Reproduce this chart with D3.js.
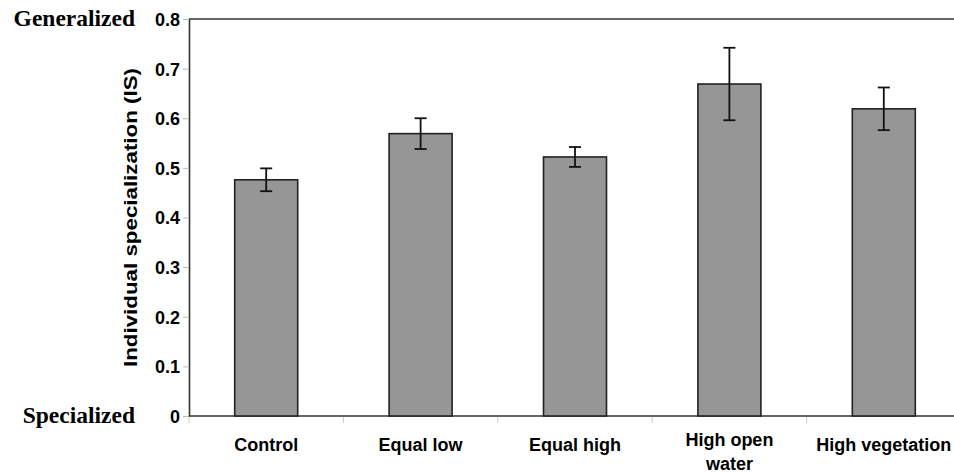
<!DOCTYPE html>
<html>
<head>
<meta charset="utf-8">
<script src="https://cdn.jsdelivr.net/npm/d3@7"></script>
<style>
    body { margin: 0; background: #fff; }
    svg { display: block; }
    .tick-label { font-family: "Liberation Sans", Arial, sans-serif; font-weight: bold; font-size: 18px; fill: #000; }
    .end-label { font-family: "Liberation Serif", "Times New Roman", serif; font-weight: bold; font-size: 23.5px; fill: #000; }
</style>
</head>
<body>
<svg id="chart" width="954" height="474"></svg>
<script>
// data
var categories = ["Control", "Equal low", "Equal high", "High open water", "High vegetation"];
var meanIS = [0.476, 0.569, 0.522, 0.669, 0.619];
var errIS = [0.023, 0.031, 0.020, 0.073, 0.043];
var yTicks = [0, 0.1, 0.2, 0.3, 0.4, 0.5, 0.6, 0.7, 0.8];
var yTickLabels = ["0", "0.1", "0.2", "0.3", "0.4", "0.5", "0.6", "0.7", "0.8"];

var svg = d3.select("#chart");

// plot edges (note: "top" is reserved on window)
var plotLeft = 189, plotRight = 961, plotTop = 19, plotBottom = 416;

var x = d3.scaleBand()
    .domain(categories)
    .range([plotLeft, plotRight])
    .paddingInner(0.592)
    .paddingOuter(0.296);

var y = d3.scaleLinear()
    .domain([0, 0.8])
    .range([plotBottom, plotTop]);

// y axis
var yAxis = d3.axisLeft(y)
    .tickValues(yTicks)
    .tickFormat(function (d, i) { return yTickLabels[i]; })
    .tickSize(6)
    .tickSizeOuter(0)
    .tickPadding(3);

var gy = svg.append("g")
    .attr("transform", "translate(" + plotLeft + ",0)")
    .call(yAxis);
gy.select(".domain").attr("stroke", "#333").attr("stroke-width", 1.6);
gy.selectAll(".tick line").attr("stroke", "#bbb");
gy.selectAll(".tick text").attr("class", "tick-label").attr("dy", "0.36em");

// top frame line
svg.append("line")
    .attr("x1", plotLeft).attr("x2", plotRight)
    .attr("y1", y(0.8)).attr("y2", y(0.8))
    .attr("stroke", "#333").attr("stroke-width", 1.6);

// x axis baseline
svg.append("line")
    .attr("x1", plotLeft).attr("x2", plotRight)
    .attr("y1", y(0)).attr("y2", y(0))
    .attr("stroke", "#333").attr("stroke-width", 1.6);

// category boundary ticks
var half = x.step() * x.paddingInner() / 2;
var bounds = categories.map(function (c) { return x(c) - half; });
bounds.push(x(categories[categories.length - 1]) + x.bandwidth() + half);
svg.append("g").selectAll("line")
    .data(bounds)
    .enter()
    .append("line")
    .attr("x1", function (d) { return d; })
    .attr("x2", function (d) { return d; })
    .attr("y1", y(0) + 1)
    .attr("y2", y(0) + 7)
    .attr("stroke", "#ccc")
    .attr("stroke-width", 1);

// bars
svg.append("g").selectAll("rect")
    .data(categories)
    .enter()
    .append("rect")
    .attr("x", function (d) { return x(d); })
    .attr("width", x.bandwidth())
    .attr("y", function (d, i) { return y(meanIS[i]); })
    .attr("height", function (d, i) { return y(0) - y(meanIS[i]); })
    .attr("fill", "#969696")
    .attr("stroke", "#222")
    .attr("stroke-width", 1.6);

// error bars
var eb = svg.append("g").attr("stroke", "#111").attr("stroke-width", 1.8);
categories.forEach(function (c, i) {
    var cx = x(c) + x.bandwidth() / 2;
    var hi = y(meanIS[i] + errIS[i]), lo = y(meanIS[i] - errIS[i]);
    eb.append("line").attr("x1", cx).attr("x2", cx).attr("y1", hi).attr("y2", lo);
    eb.append("line").attr("x1", cx - 6).attr("x2", cx + 6).attr("y1", hi).attr("y2", hi);
    eb.append("line").attr("x1", cx - 6).attr("x2", cx + 6).attr("y1", lo).attr("y2", lo);
});

// category labels
var xl = svg.append("g");
categories.forEach(function (c) {
    var cx = x(c) + x.bandwidth() / 2;
    var t = xl.append("text")
        .attr("class", "tick-label")
        .attr("text-anchor", "middle")
        .attr("x", cx);
    if (c === "High open water") {
        t.attr("y", 446);
        t.append("tspan").attr("x", cx).text("High open");
        t.append("tspan").attr("x", cx).attr("dy", 24).text("water");
    } else {
        t.attr("y", 451).text(c);
    }
});

// y axis title (stretched along its length like the original)
svg.append("text")
    .attr("class", "tick-label")
    .attr("text-anchor", "middle")
    .attr("textLength", 299)
    .attr("lengthAdjust", "spacingAndGlyphs")
    .attr("transform", "translate(137," + ((plotTop + plotBottom) / 2) + ") rotate(-90)")
    .text("Individual specialization (IS)");

// end labels
svg.append("text").attr("class", "end-label")
    .attr("text-anchor", "end")
    .attr("x", 135).attr("y", 26)
    .text("Generalized");
svg.append("text").attr("class", "end-label")
    .attr("text-anchor", "end")
    .attr("x", 135).attr("y", 423)
    .text("Specialized");
</script>
</body>
</html>
